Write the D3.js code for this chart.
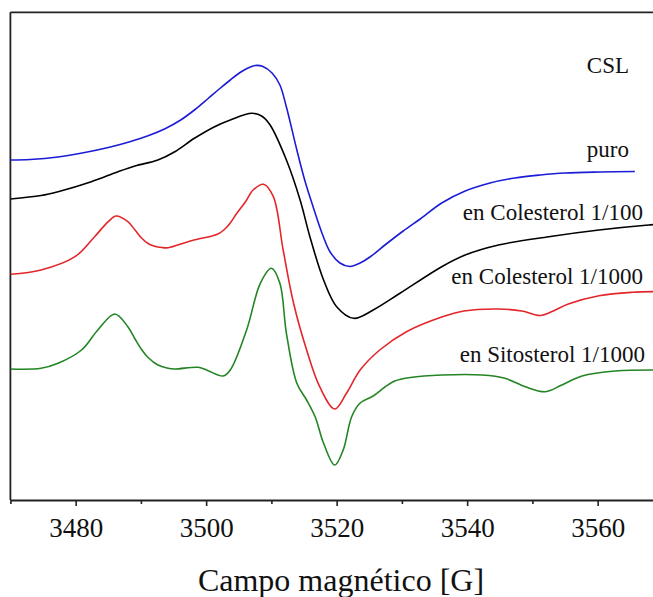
<!DOCTYPE html>
<html>
<head>
<meta charset="utf-8">
<script src="https://cdn.jsdelivr.net/npm/d3@7"></script>
<style>
  html, body { margin: 0; padding: 0; background: #fff; }
  svg { display: block; }
</style>
</head>
<body>
<svg id="chart" width="653" height="597"></svg>
<script>
// ---- Data (field in G, intensity in arbitrary units) ----
const bluePuro = [
  [3470,340],[3473.0,340.5],[3477.3,343],[3481.4,347.5],[3485.0,352.5],[3488.3,358.3],
  [3491.1,364.2],[3493.7,371.3],[3496.1,380],[3498.3,390.5],[3500.3,401.5],[3502.1,411.5],
  [3503.7,420],[3505.2,427.5],[3506.4,432],[3507.5,434.5],[3508.7,433.5],[3510.1,427],
  [3511.3,415],[3512.3,393],[3513.9,350],[3515.1,320],[3516.4,293],[3517.8,266],
  [3519.0,248],[3520.5,237],[3522.0,233.5],[3523.6,237],[3525.1,243],[3527.4,255],
  [3530.2,269],[3532.8,281],[3536.1,297],[3539.7,309],[3543.5,317],[3547.3,322],
  [3551.2,325],[3555.0,327],[3560.4,328],[3565.7,328.5]
];
const blackCol100 = [
  [3470,301],[3474.7,304.5],[3477.3,308.3],[3482.4,318.3],[3486.5,328.3],[3489.1,334],
  [3492.6,340],[3495.2,348.3],[3498.2,361.7],[3501.3,373.3],[3503.7,380],[3507.0,386.7],
  [3508.5,384],[3509.8,375],[3512.3,340],[3514.4,300],[3515.9,263.3],[3518.0,220],
  [3520.0,193.3],[3522.6,181.7],[3525.6,190],[3529.7,206.7],[3536.1,233.3],[3539.7,245],
  [3544.8,255],[3552.5,263.3],[3560.2,270],[3567.8,275],[3570,276]
];
const redCol1000 = [
  [3470,225.7],[3474.7,230],[3479.9,243.3],[3482.9,263.3],[3485.0,278.3],[3486.2,284],
  [3488.0,278.3],[3489.1,270],[3490.1,262],[3491.1,256.5],[3492.1,253.8],[3493.2,252.5],
  [3494.2,252.3],[3497.2,258.3],[3499.3,261.7],[3500.6,263.5],[3501.8,266],[3502.8,270.5],
  [3503.7,277],[3504.7,286.7],[3506.0,298],[3507.2,310],[3508.8,315.7],[3510.3,303.3],
  [3511.8,250],[3513.4,196.7],[3515.4,150],[3517.4,113.3],[3519.7,91],[3521.5,106.7],
  [3523.6,130],[3526.6,150],[3530.7,168.3],[3536.1,183],[3539.5,189],[3544.8,191],
  [3548.4,189],[3551.2,184.5],[3553.2,189],[3555.5,196],[3560.2,204.3],[3565.3,207.7],[3570,208.5]
];
const greenSito1000 = [
  [3470,131],[3474.7,131.7],[3477.3,136.7],[3480.9,150],[3483.4,170],[3486.0,186],
  [3488.0,173.3],[3489.1,161],[3490.1,150.5],[3491.1,142.5],[3492.6,135],[3494.0,132],
  [3495.2,131],[3498.8,132.7],[3500.3,129.3],
  [3502.6,124],[3503.7,130],[3506.2,170],[3508.3,216.7],[3510.0,231.7],[3511.3,216.7],
  [3512.3,166.7],[3513.9,116.7],[3515.4,100],[3516.7,83.3],[3518.0,56.7],[3519.7,35],
  [3521.0,50],[3522.3,83.3],[3523.6,97],[3525.6,104],[3527.4,113],[3528.9,119],
  [3531.3,122.5],[3536.1,125],[3542.3,125],[3545.8,121.7],[3548.9,113.3],[3552.0,108.3],
  [3554.5,115],[3557.6,124],[3562.7,129],[3570,130]
];
const seriesNames = ["puro", "en Colesterol 1/100", "en Colesterol 1/1000", "en Sitosterol 1/1000"];
const seriesColors = ["#1c1cd6", "#000000", "#e3262b", "#238523"];
const majorTicks = [3480, 3500, 3520, 3540, 3560];
const minorTicks = [3470, 3490, 3510, 3530, 3550, 3570];
const xTitle = "Campo magnético [G]";
const headerLabel = "CSL";

// ---- Layout ----
(function () {
const FONT = "Liberation Serif, DejaVu Serif, Noto Serif, serif";
const svg = d3.select("#chart");
const mLeft = 10.4, mRight = 662.9, mTop = 12.3, mBottom = 500;
const x = d3.scaleLinear().domain([3470, 3570]).range([mLeft, mRight]);
const y = d3.scaleLinear().domain([0, 487.7]).range([mBottom, mTop]);

// frame (left and top; right side lies beyond the window)
svg.append("line").attr("x1", mLeft).attr("x2", mLeft).attr("y1", mTop).attr("y2", mBottom)
  .attr("stroke", "#222").attr("stroke-width", 1.8);
svg.append("line").attr("x1", mLeft).attr("x2", mRight).attr("y1", mTop).attr("y2", mTop)
  .attr("stroke", "#222").attr("stroke-width", 1.8);

// minor ticks
const gMinor = svg.append("g").attr("transform", `translate(0,${mBottom})`)
  .call(d3.axisBottom(x).tickValues(minorTicks).tickSize(4).tickSizeOuter(0).tickFormat(""));
gMinor.select(".domain").remove();
gMinor.selectAll("line").attr("stroke", "#222").attr("stroke-width", 1.6);

// major axis
const gx = svg.append("g").attr("transform", `translate(0,${mBottom})`)
  .call(d3.axisBottom(x).tickValues(majorTicks).tickSize(6).tickSizeOuter(0).tickPadding(12).tickFormat(d3.format("d")));
gx.attr("font-family", FONT).attr("font-size", 27);
gx.select(".domain").attr("stroke", "#222").attr("stroke-width", 1.8);
gx.selectAll(".tick line").attr("stroke", "#222").attr("stroke-width", 1.6);
gx.selectAll(".tick text").attr("font-family", FONT).attr("font-size", 27).attr("fill", "#111");

// axis title
svg.append("text").attr("x", 341).attr("y", 591).attr("text-anchor", "middle")
  .attr("font-family", FONT).attr("font-size", 32).attr("fill", "#111").text(xTitle);

// curves
const line = d3.line().x(d => x(d[0])).y(d => y(d[1])).curve(d3.curveCatmullRom.alpha(0.5));
const allSeries = [bluePuro, blackCol100, redCol1000, greenSito1000];
svg.append("clipPath").attr("id", "clip").append("rect")
  .attr("x", mLeft).attr("y", mTop).attr("width", mRight - mLeft).attr("height", mBottom - mTop);
svg.append("g").attr("clip-path", "url(#clip)").selectAll("path").data(allSeries).join("path")
  .attr("d", line).attr("fill", "none")
  .attr("stroke", (d, i) => seriesColors[i]).attr("stroke-width", 1.6)
  .attr("stroke-linejoin", "round");

// labels
svg.append("text").attr("x", 629).attr("y", 73).attr("text-anchor", "end")
  .attr("font-family", FONT).attr("font-size", 23).attr("fill", "#111").text(headerLabel);
const labelPos = [[629, 157], [643, 220], [643, 284], [645, 362]];
seriesNames.forEach((n, i) => {
  svg.append("text").attr("x", labelPos[i][0]).attr("y", labelPos[i][1])
    .attr("text-anchor", "end").attr("font-family", FONT).attr("font-size", 23)
    .attr("fill", "#111").text(n);
});
})();
</script>
</body>
</html>
